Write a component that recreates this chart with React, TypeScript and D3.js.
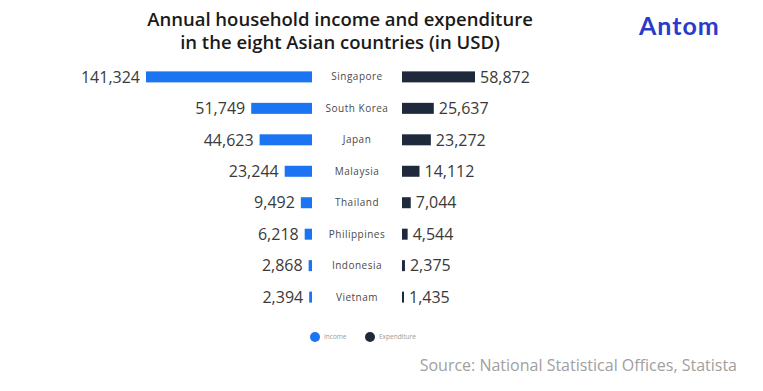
import React from "react";
import * as d3 from "d3";

const countries = ["Singapore", "South Korea", "Japan", "Malaysia", "Thailand", "Philippines", "Indonesia", "Vietnam"];
const income = [141324, 51749, 44623, 23244, 9492, 6218, 2868, 2394];
const expenditure = [58872, 25637, 23272, 14112, 7044, 4544, 2375, 1435];
const titleLines = ["Annual household income and expenditure", "in the eight Asian countries (in USD)"];
const legendItems = ["Income", "Expenditure"];

const blue = "#1b74f2";
const navy = "#1e293b";
const fmt = d3.format(",");

const App = () => {
  const width = 763;
  const height = 391;
  const incomeRight = 312;
  const expLeft = 402;
  const barH = 11;

  const y = d3.scaleBand().domain(countries).range([61, 313]).paddingInner(0.65).paddingOuter(0.33);
  const xIncome = d3.scaleLinear().domain([0, 141324]).range([0, 166]);
  const xExp = d3.scaleLinear().domain([0, 58872]).range([0, 73]);

  return (
    <svg
      width={width}
      height={height}
      style={{ position: "absolute", left: 0, top: 0, background: "#fff" }}
    >
      {titleLines.map((t, i) => (
        <text
          key={i}
          x={340}
          y={26 + i * 23}
          textAnchor="middle"
          fontFamily="'Open Sans', sans-serif"
          fontWeight={600}
          fontSize={18.5}
          fill="#1a1a1a"
        >
          {t}
        </text>
      ))}
      <text x={639} y={35} fontFamily="Lato, sans-serif" fontWeight={700} fontSize={25} letterSpacing={1} fill="#2a3bcc">
        Antom
      </text>

      {countries.map((c, i) => {
        const cy = (y(c) as number) + y.bandwidth() / 2;
        const wi = Math.max(2, xIncome(income[i]));
        const we = Math.max(2, xExp(expenditure[i]));
        return (
          <g key={c}>
            <rect x={incomeRight - wi} y={cy - barH / 2} width={wi} height={barH} fill={blue} />
            <text
              x={incomeRight - wi - 6}
              y={cy}
              dy="0.36em"
              textAnchor="end"
              fontFamily="'Open Sans', sans-serif"
              fontSize={16}
              fill="#3a3a3a"
            >
              {fmt(income[i])}
            </text>
            <text
              x={357}
              y={cy}
              dy="0.36em"
              textAnchor="middle"
              fontFamily="'Open Sans', sans-serif"
              fontSize={10}
              letterSpacing={0.5}
              fill="#4a4a4a"
            >
              {c}
            </text>
            <rect x={expLeft} y={cy - barH / 2} width={we} height={barH} fill={navy} />
            <text
              x={expLeft + we + 5}
              y={cy}
              dy="0.36em"
              fontFamily="'Open Sans', sans-serif"
              fontSize={16}
              fill="#3a3a3a"
            >
              {fmt(expenditure[i])}
            </text>
          </g>
        );
      })}

      {legendItems.map((l, i) => (
        <g key={l} transform={`translate(${315 + i * 55},337)`}>
          <circle r={5} fill={i === 0 ? blue : navy} />
          <text x={9} dy="0.35em" fontFamily="'Open Sans', sans-serif" fontSize={6.5} fill="#9a9a9a">
            {l}
          </text>
        </g>
      ))}

      <text
        x={737}
        y={371}
        textAnchor="end"
        fontFamily="'Open Sans', sans-serif"
        fontSize={16}
        fill="#a0a0a0"
      >
        Source:  National Statistical Offices, Statista
      </text>
    </svg>
  );
};

export default App;
